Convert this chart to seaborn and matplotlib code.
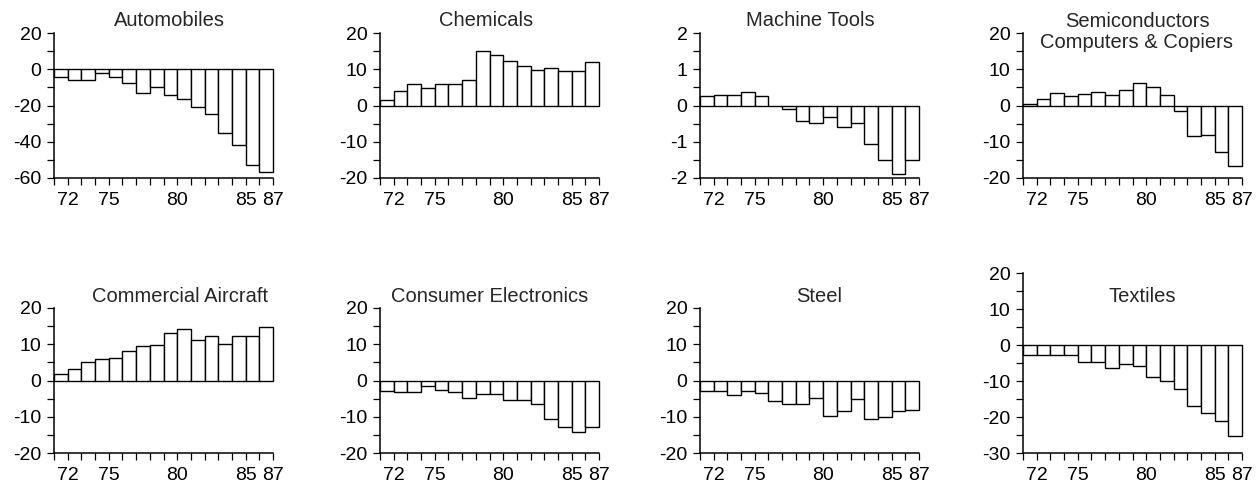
import matplotlib
matplotlib.use("Agg")
import matplotlib.pyplot as plt
import seaborn as sns
import numpy as np
import pandas as pd

years = [str(y) for y in range(72, 88)]
year_labels = {"72": "72", "75": "75", "80": "80", "85": "85", "87": "87"}

automobiles = [-4, -6, -6, -2, -4.5, -7.5, -13, -10, -14, -16.5, -21, -24.5, -35, -42, -53, -56.5]
chemicals = [1.6, 3.9, 6.0, 4.7, 6.0, 6.0, 7.0, 15.1, 13.9, 12.3, 11.0, 9.8, 10.4, 9.6, 9.6, 12.0]
machine_tools = [0.25, 0.29, 0.28, 0.38, 0.27, -0.02, -0.09, -0.42, -0.48, -0.33, -0.6, -0.48, -1.05, -1.51, -1.88, -1.51]
semiconductors = [0.5, 1.8, 3.4, 2.7, 3.1, 3.7, 2.8, 4.2, 6.2, 5.0, 2.9, -1.6, -8.4, -8.2, -12.8, -16.7]
aircraft = [1.9, 3.1, 5.2, 5.9, 6.1, 8.2, 9.4, 9.9, 13.0, 14.1, 11.3, 12.3, 10.1, 12.4, 12.4, 14.8]
consumer = [-3.0, -3.2, -3.2, -1.6, -2.6, -3.3, -4.9, -3.8, -3.8, -5.3, -5.3, -6.5, -10.6, -12.7, -14.2, -12.7]
steel = [-2.8, -2.8, -3.9, -3.0, -3.4, -5.6, -6.4, -6.4, -4.7, -9.7, -8.3, -5.1, -10.6, -10.2, -8.3, -8.1]
textiles = [-2.9, -2.7, -2.9, -2.8, -4.6, -4.6, -6.4, -5.3, -5.9, -8.9, -10.0, -12.3, -17.0, -18.8, -21.1, -25.4]

panels = [
    ("Automobiles", automobiles, (-60, 20), 20),
    ("Chemicals", chemicals, (-20, 20), 10),
    ("Machine Tools", machine_tools, (-2, 2), 1),
    ("Semiconductors\nComputers & Copiers", semiconductors, (-20, 20), 10),
    ("Commercial Aircraft", aircraft, (-20, 20), 10),
    ("Consumer Electronics", consumer, (-20, 20), 10),
    ("Steel", steel, (-20, 20), 10),
    ("Textiles", textiles, (-30, 20), 10),
]

sns.set_style("ticks")
plt.rcParams["font.family"] = ["Liberation Sans", "DejaVu Sans"]
plt.rcParams["axes.unicode_minus"] = False

W, H = 1258, 488
fig = plt.figure(figsize=(W / 100, H / 100), dpi=100)

# axes boxes in pixels: left, top, width, height
lefts = [54, 380, 700, 1023]
boxes = []
for i in range(4):
    boxes.append((lefts[i], 33, 219, 145))
for i in range(3):
    boxes.append((lefts[i], 308, 219, 145))
boxes.append((lefts[3], 273, 219, 180))

title_pos = [(169, 20), (486, 20), (810, 20), (1137, 32),
             (180, 297), (490, 297), (819, 297), (1142, 297)]

for (name, vals, ylim, step), (l, t, w, h), (tx, ty) in zip(panels, boxes, title_pos):
    ax = fig.add_axes([l / W, 1 - (t + h) / H, w / W, h / H])
    df = pd.DataFrame({"year": years, "value": vals})
    sns.barplot(data=df, x="year", y="value", color="white", edgecolor="black",
                linewidth=1.0, width=1.0, saturation=1, ax=ax)
    for p in ax.patches:
        p.set_clip_on(False)
    ax.set_xlim(-0.5, len(years) - 0.5)
    ax.set_ylim(*ylim)
    edges = np.arange(-0.5, len(years), 1.0)
    ax.set_xticks(edges)
    ax.set_xticklabels([""] + [year_labels.get(y, "") for y in years])
    ax.set_yticks(np.arange(ylim[0], ylim[1] + step / 2, step))
    ax.set_yticks(np.arange(ylim[0], ylim[1] + step / 4, step / 2), minor=True)
    ax.tick_params(axis="both", which="both", length=5, width=0.9, color="black",
                   labelsize=14, labelcolor="black")
    ax.tick_params(axis="y", pad=4)
    ax.tick_params(axis="x", pad=5)
    ax.set_xlabel("")
    ax.set_ylabel("")
    sns.despine(ax=ax)
    for s in ["left", "bottom"]:
        ax.spines[s].set_linewidth(1.1)
        ax.spines[s].set_color("black")
    ax.patch.set_alpha(0)
    fig.text(tx / W, 1 - ty / H, name, ha="center", va="center", fontsize=14.5,
             linespacing=1.1)

fig.savefig("out.png", dpi=100)
